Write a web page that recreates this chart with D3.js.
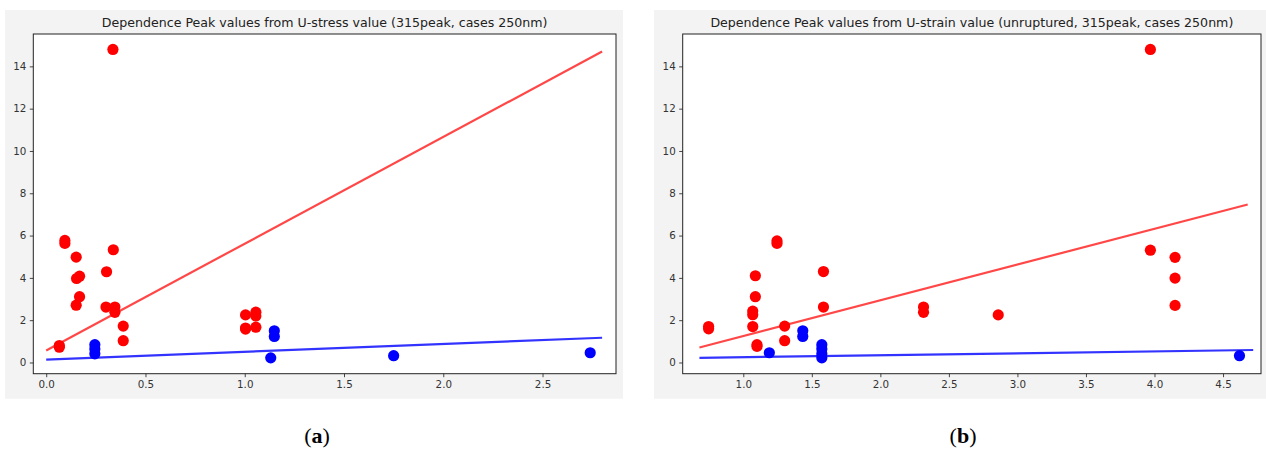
<!DOCTYPE html>
<html>
<head>
<meta charset="utf-8">
<script src="https://cdn.jsdelivr.net/npm/d3@7"></script>
<style>
  html, body { margin: 0; padding: 0; background: #ffffff; }
  svg { display: block; }
</style>
</head>
<body>
<svg id="fig" width="1266" height="451"></svg>
<script>
// ---- data: U-stress panel ----
const stressTitle = "Dependence Peak values from U-stress value (315peak, cases 250nm)";
const stressRedX = [0.066, 0.066, 0.094, 0.094, 0.151, 0.153, 0.168, 0.168, 0.151, 0.304, 0.338, 0.301, 0.346, 0.346, 0.388, 0.388, 0.336, 1.004, 1.056, 1.056, 1.004, 1.056, 1.004];
const stressRedY = [0.80, 0.72, 5.77, 5.63, 4.98, 3.97, 4.08, 3.11, 2.71, 4.29, 5.33, 2.62, 2.62, 2.37, 1.72, 1.03, 14.80, 2.25, 2.38, 2.20, 1.63, 1.67, 1.58];
const stressBlueX = [0.245, 0.245, 0.245, 1.149, 1.149, 1.131, 1.75, 2.74];
const stressBlueY = [0.84, 0.64, 0.41, 1.50, 1.23, 0.22, 0.32, 0.46];
const stressRedFitX = [0, 2.80];
const stressRedFitY = [0.57, 14.70];
const stressBlueFitX = [0, 2.80];
const stressBlueFitY = [0.14, 1.17];
const stressXTicks = [0.0, 0.5, 1.0, 1.5, 2.0, 2.5];
const stressXDomain = [-0.065, 2.87];

// ---- data: U-strain panel ----
const strainTitle = "Dependence Peak values from U-strain value (unruptured, 315peak, cases 250nm)";
const strainRedX = [0.747, 0.747, 1.069, 1.069, 1.069, 1.088, 1.088, 1.10, 1.10, 1.246, 1.246, 1.302, 1.302, 1.585, 1.585, 2.315, 2.315, 2.86, 3.97, 4.15, 4.15, 4.15, 3.97];
const strainRedY = [1.70, 1.59, 2.43, 2.26, 1.70, 4.10, 3.11, 0.84, 0.76, 5.75, 5.63, 1.72, 1.03, 4.30, 2.62, 2.62, 2.37, 2.25, 5.31, 4.97, 3.99, 2.70, 14.80];
const strainBlueX = [1.19, 1.434, 1.434, 1.573, 1.573, 1.573, 1.573, 4.62];
const strainBlueY = [0.46, 1.50, 1.23, 0.84, 0.64, 0.41, 0.22, 0.32];
const strainRedFitX = [0.68, 4.68];
const strainRedFitY = [0.71, 7.47];
const strainBlueFitX = [0.68, 4.72];
const strainBlueFitY = [0.22, 0.59];
const strainXTicks = [1.0, 1.5, 2.0, 2.5, 3.0, 3.5, 4.0, 4.5];
const strainXDomain = [0.558, 4.777];

// shared value axis
const yTicks = [0, 2, 4, 6, 8, 10, 12, 14];
const yDomain = [-0.53, 15.53];
const captions = ["a", "b"];

const svg = d3.select("#fig");
const FONT = "'DejaVu Sans', sans-serif";

function drawPanel(cfg) {
  const { bg, box, title, xDomain, xTicks, redX, redY, blueX, blueY,
          redFitX, redFitY, blueFitX, blueFitY, caption } = cfg;

  // figure background
  svg.append("rect")
    .attr("x", bg.x0).attr("y", bg.y0)
    .attr("width", bg.x1 - bg.x0).attr("height", bg.y1 - bg.y0)
    .attr("fill", "#f3f3f3");

  const x = d3.scaleLinear().domain(xDomain).range([box.left, box.right]);
  const y = d3.scaleLinear().domain(yDomain).range([box.bottom, box.top]);

  // plotting area
  svg.append("rect")
    .attr("x", box.left).attr("y", box.top)
    .attr("width", box.right - box.left).attr("height", box.bottom - box.top)
    .attr("fill", "#ffffff");

  const clipId = "clip-" + caption;
  svg.append("clipPath").attr("id", clipId)
    .append("rect")
    .attr("x", box.left).attr("y", box.top)
    .attr("width", box.right - box.left).attr("height", box.bottom - box.top);

  const plot = svg.append("g").attr("clip-path", `url(#${clipId})`);

  const line = d3.line().x(d => x(d[0])).y(d => y(d[1]));

  // regression lines
  plot.append("path")
    .datum(d3.zip(redFitX, redFitY))
    .attr("d", line)
    .attr("fill", "none")
    .attr("stroke", "#ff0000")
    .attr("stroke-opacity", 0.72)
    .attr("stroke-width", 2.2);
  plot.append("path")
    .datum(d3.zip(blueFitX, blueFitY))
    .attr("d", line)
    .attr("fill", "none")
    .attr("stroke", "#0000ff")
    .attr("stroke-opacity", 0.8)
    .attr("stroke-width", 2.2);

  // scatter points
  plot.selectAll("circle.red")
    .data(d3.zip(redX, redY))
    .join("circle")
    .attr("class", "red")
    .attr("cx", d => x(d[0])).attr("cy", d => y(d[1]))
    .attr("r", 5.6)
    .attr("fill", "#ff0000");
  plot.selectAll("circle.blue")
    .data(d3.zip(blueX, blueY))
    .join("circle")
    .attr("class", "blue")
    .attr("cx", d => x(d[0])).attr("cy", d => y(d[1]))
    .attr("r", 5.6)
    .attr("fill", "#0000ff");

  // axes
  const xAxis = d3.axisBottom(x).tickValues(xTicks).tickFormat(d3.format(".1f"))
    .tickSize(3.5).tickPadding(3.5);
  const yAxis = d3.axisLeft(y).tickValues(yTicks).tickFormat(d3.format("d"))
    .tickSize(3.5).tickPadding(3.5);

  const gx = svg.append("g").attr("transform", `translate(0,${box.bottom})`).call(xAxis);
  const gy = svg.append("g").attr("transform", `translate(${box.left},0)`).call(yAxis);
  [gx, gy].forEach(g => {
    g.select(".domain").remove();
    g.selectAll(".tick line").attr("stroke", "#333333").attr("stroke-width", 0.9);
    g.selectAll(".tick text")
      .attr("fill", "#333333")
      .style("font-family", FONT)
      .style("font-size", "10.3px");
  });

  // frame
  svg.append("rect")
    .attr("x", box.left).attr("y", box.top)
    .attr("width", box.right - box.left).attr("height", box.bottom - box.top)
    .attr("fill", "none")
    .attr("stroke", "#222222")
    .attr("stroke-width", 1);

  // title
  svg.append("text")
    .attr("x", (box.left + box.right) / 2)
    .attr("y", 27)
    .attr("text-anchor", "middle")
    .attr("fill", "#222222")
    .style("font-family", FONT)
    .style("font-size", "12.6px")
    .text(title);

  // caption below panel
  const cap = svg.append("text")
    .attr("x", (bg.x0 + bg.x1) / 2 + 3)
    .attr("y", 443)
    .attr("text-anchor", "middle")
    .attr("fill", "#000000")
    .style("font-family", "'Liberation Serif', 'Times New Roman', serif")
    .style("font-size", "22px");
  cap.append("tspan").text("(");
  cap.append("tspan").attr("font-weight", "bold").text(caption);
  cap.append("tspan").text(")");
}

drawPanel({
  bg: { x0: 5, x1: 623, y0: 10, y1: 398.7 },
  box: { left: 33.3, right: 616, top: 34, bottom: 373.7 },
  title: stressTitle,
  xDomain: stressXDomain, xTicks: stressXTicks,
  redX: stressRedX, redY: stressRedY, blueX: stressBlueX, blueY: stressBlueY,
  redFitX: stressRedFitX, redFitY: stressRedFitY,
  blueFitX: stressBlueFitX, blueFitY: stressBlueFitY,
  caption: captions[0]
});

drawPanel({
  bg: { x0: 654, x1: 1266, y0: 10, y1: 398.7 },
  box: { left: 682.7, right: 1261, top: 34, bottom: 373.7 },
  title: strainTitle,
  xDomain: strainXDomain, xTicks: strainXTicks,
  redX: strainRedX, redY: strainRedY, blueX: strainBlueX, blueY: strainBlueY,
  redFitX: strainRedFitX, redFitY: strainRedFitY,
  blueFitX: strainBlueFitX, blueFitY: strainBlueFitY,
  caption: captions[1]
});
</script>
</body>
</html>
